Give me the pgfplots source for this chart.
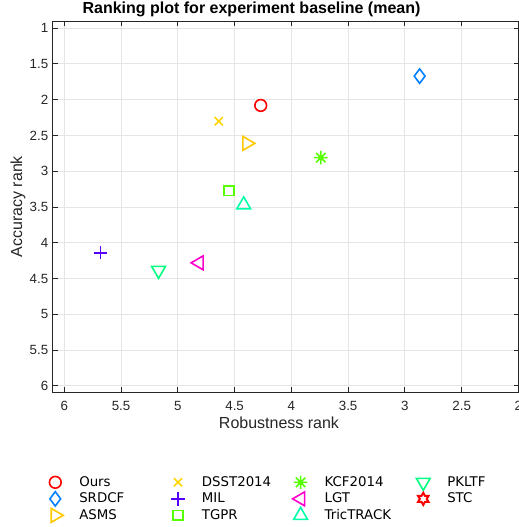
\documentclass[border=0pt]{standalone}
\usepackage{fontspec}
\setmainfont{Liberation Sans}
\newfontfamily\legendfont{DejaVu Sans}
\usepackage{pgfplots}
\pgfplotsset{compat=1.18}
\usetikzlibrary{plotmarks}

\definecolor{cOurs}{HTML}{FF0000}
\definecolor{cSRDCF}{HTML}{0080FF}
\definecolor{cASMS}{HTML}{FFC800}
\definecolor{cDSST}{HTML}{FFD500}
\definecolor{cMIL}{HTML}{5500FF}
\definecolor{cTGPR}{HTML}{55FF00}
\definecolor{cKCF}{HTML}{55FF00}
\definecolor{cLGT}{HTML}{FF00CC}
\definecolor{cTric}{HTML}{00FFAA}
\definecolor{cPKLTF}{HTML}{00FF80}
\definecolor{cSTC}{HTML}{FF0000}
\definecolor{axgray}{HTML}{262626}

% matlab-like 8-ray asterisk and hexagram
\pgfdeclareplotmark{ast8}{%
  \pgfpathmoveto{\pgfpointpolar{0}{\pgfplotmarksize}}\pgfpathlineto{\pgfpointpolar{180}{\pgfplotmarksize}}%
  \pgfpathmoveto{\pgfpointpolar{90}{\pgfplotmarksize}}\pgfpathlineto{\pgfpointpolar{270}{\pgfplotmarksize}}%
  \pgfpathmoveto{\pgfpointpolar{45}{\pgfplotmarksize}}\pgfpathlineto{\pgfpointpolar{225}{\pgfplotmarksize}}%
  \pgfpathmoveto{\pgfpointpolar{135}{\pgfplotmarksize}}\pgfpathlineto{\pgfpointpolar{315}{\pgfplotmarksize}}%
  \pgfusepathqstroke}
\pgfdeclareplotmark{hexagram}{%
  \pgfpathmoveto{\pgfpointpolar{90}{\pgfplotmarksize}}%
  \pgfpathlineto{\pgfpointpolar{120}{0.577\pgfplotmarksize}}%
  \pgfpathlineto{\pgfpointpolar{150}{\pgfplotmarksize}}%
  \pgfpathlineto{\pgfpointpolar{180}{0.577\pgfplotmarksize}}%
  \pgfpathlineto{\pgfpointpolar{210}{\pgfplotmarksize}}%
  \pgfpathlineto{\pgfpointpolar{240}{0.577\pgfplotmarksize}}%
  \pgfpathlineto{\pgfpointpolar{270}{\pgfplotmarksize}}%
  \pgfpathlineto{\pgfpointpolar{300}{0.577\pgfplotmarksize}}%
  \pgfpathlineto{\pgfpointpolar{330}{\pgfplotmarksize}}%
  \pgfpathlineto{\pgfpointpolar{0}{0.577\pgfplotmarksize}}%
  \pgfpathlineto{\pgfpointpolar{30}{\pgfplotmarksize}}%
  \pgfpathlineto{\pgfpointpolar{60}{0.577\pgfplotmarksize}}%
  \pgfpathclose\pgfusepathqstroke}

\newcommand\lentry[1]{\makebox[67pt][l]{#1}}

\begin{document}
\begin{tikzpicture}
\begin{axis}[
  name=main,
  scale only axis,
  width=349.5pt, height=278.5pt,
  x dir=reverse, y dir=reverse,
  xmin=1.995, xmax=6.1,
  ymin=0.9, ymax=6.09,
  xtick={2,2.5,...,6}, ytick={1,1.5,...,6},
  grid=major,
  grid style={color=black!10, line width=0.75pt},
  axis line style={color=axgray, line width=0.75pt},
  tick style={color=axgray, line width=0.75pt},
  major tick length=3.75pt,
  tick align=inside,
  /pgf/number format/assume math mode=true,
  tick label style={font=\fontsize{10}{12}\selectfont, color=axgray},
  xticklabel style={yshift=-3pt},
  xlabel={Robustness rank},
  ylabel={Accuracy rank},
  xlabel style={font=\fontsize{12}{14}\selectfont, color=axgray,
    at={(axis description cs:0.485,-0.0808)}, anchor=center},
  ylabel style={font=\fontsize{12}{14}\selectfont, color=axgray,
    at={(axis description cs:-0.0751,0.5)}, anchor=center},
  title={Ranking plot for experiment baseline (mean)},
  title style={font=\bfseries\fontsize{12}{14}\selectfont,
    at={(axis description cs:0.426,1.0337)}, anchor=center, yshift=-7pt},
  mk/.style={only marks, mark options={solid, line width=1.2pt, #1}},
  mk/.default={},
  legend columns=4,
  legend cell align=left,
  legend style={draw=none, fill=none, inner sep=0pt,
    font=\legendfont\fontsize{10}{12}\selectfont,
    at={(axis description cs:-0.0157,-0.22)}, anchor=north west,
    row sep=0.4pt,
    /tikz/every odd column/.append style={column sep=11pt},
    /tikz/every even column/.append style={column sep=0pt},
    nodes={inner sep=0pt}},
  legend image code/.code={%
    \path[draw=none, fill=none] (-7pt,-6pt) rectangle (7pt,6pt);
    \draw[#1] plot coordinates {(0pt,0pt)};},
]
% row 1 of legend
\addplot[color=cOurs, mark=o, mark size=4.4pt, mk] coordinates {(4.27,2.08)};
\addlegendentry{\lentry{Ours}}
\addplot[color=cDSST, mark=x, mark size=4.3pt, mk] coordinates {(4.64,2.30)};
\addlegendentry{\lentry{DSST2014}}
\addplot[color=cKCF, mark=ast8, mark size=5pt, mk] coordinates {(3.74,2.81)};
\addlegendentry{\lentry{KCF2014}}
\addplot[color=cPKLTF, mark=triangle, mark size=6pt, mk={rotate=180}] coordinates {(5.17,4.385)};
\addlegendentry{\lentry{PKLTF}}
% row 2
\addplot[color=cSRDCF, mark=diamond, mark size=5.4pt, mk] coordinates {(2.87,1.67)};
\addlegendentry{\lentry{SRDCF}}
\addplot[color=cMIL, mark=+, mark size=5pt, mk] coordinates {(5.68,4.14)};
\addlegendentry{\lentry{MIL}}
\addplot[color=cLGT, mark=triangle, mark size=6pt, mk={rotate=90}] coordinates {(4.813,4.28)};
\addlegendentry{\lentry{LGT}}
\addlegendimage{color=cSTC, mark=hexagram, mark size=4.5pt, only marks, mark options={solid, line width=1.5pt}}
\addlegendentry{\lentry{STC}}
% row 3
\addplot[color=cASMS, mark=triangle, mark size=6pt, mk={rotate=-90}] coordinates {(4.392,2.61)};
\addlegendentry{\lentry{ASMS}}
\addplot[color=cTGPR, mark=square, mark size=3.6pt, mk] coordinates {(4.55,3.27)};
\addlegendentry{\lentry{TGPR}}
\addplot[color=cTric, mark=triangle, mark size=6pt, mk] coordinates {(4.42,3.47)};
\addlegendentry{\lentry{TricTRACK}}
\end{axis}
\pgfresetboundingbox
\path[use as bounding box] ([xshift=-39.75pt,yshift=-101pt]main.south west)
  rectangle ([yshift=15.75pt]main.north east);
\end{tikzpicture}
\end{document}
